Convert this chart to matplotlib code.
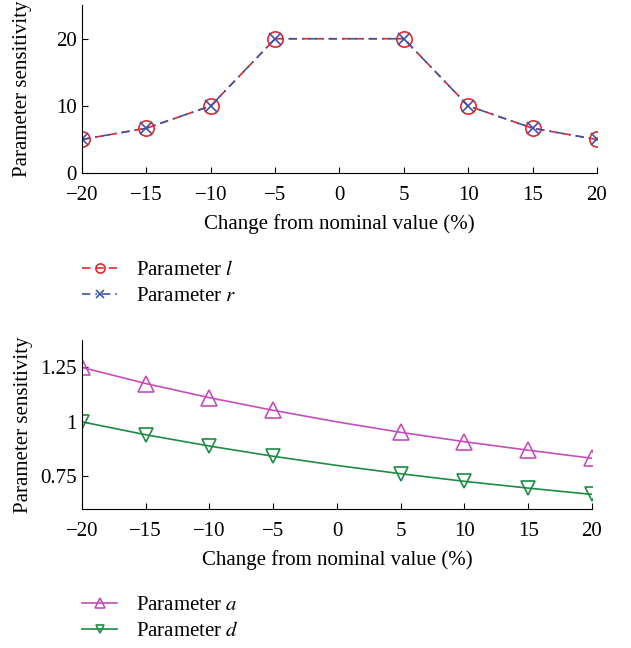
import matplotlib
matplotlib.use("Agg")
import matplotlib.pyplot as plt

plt.rcParams["font.family"] = ["Liberation Serif", "DejaVu Serif"]
plt.rcParams["mathtext.fontset"] = "stix"
plt.rcParams["font.size"] = 15

# top panel data
change_top = [-20, -15, -10, -5, 5, 10, 15, 20]
sens_l = [5.0, 6.67, 10.0, 20.0, 20.0, 10.0, 6.67, 5.0]
sens_r = [5.0, 6.67, 10.0, 20.0, 20.0, 10.0, 6.67, 5.0]

# bottom panel data (0 % point only carries the line, no marker)
change_bot = [-20, -15, -10, -5, 0, 5, 10, 15, 20]
sens_a = [1.25, 1.176, 1.111, 1.053, 1.0, 0.952, 0.909, 0.870, 0.833]
sens_d = [1.0, 0.941, 0.889, 0.842, 0.80, 0.762, 0.727, 0.696, 0.667]
marker_idx = [0, 1, 2, 3, 5, 6, 7, 8]

xticks = [-20, -15, -10, -5, 0, 5, 10, 15, 20]
xticklabels = ["\u221220", "\u221215", "\u221210", "\u22125", "0", "5", "10", "15", "20"]

red = "#e8262a"
blue = "#3a56a8"
magenta = "#c54fb8"
green = "#1d8a45"

fig = plt.figure(figsize=(6.31, 6.48), dpi=100)
ax1 = fig.add_axes([0.130, 0.733, 0.816, 0.259])
ax2 = fig.add_axes([0.130, 0.2145, 0.808, 0.2605])

l1, = ax1.plot(change_top, sens_l, linestyle=(0, (5, 3)), color=red, lw=1.2,
               marker="o", markersize=11, markerfacecolor="none",
               markeredgecolor=red, markeredgewidth=1.2, label="Parameter $l$")
l2, = ax1.plot(change_top, sens_r, linestyle=(0, (5, 3, 1, 3)), color=blue, lw=1.2,
               marker="x", markersize=9, markeredgecolor=blue,
               markeredgewidth=1.2, label="Parameter $r$")
ax1.set_xlim(-20, 20)
ax1.set_ylim(0, 25)
ax1.set_yticks([0, 10, 20])
ax1.set_xticks(xticks)
ax1.set_xticklabels(xticklabels)
ax1.set_xlabel("Change from nominal value (%)", labelpad=7)
ax1.set_ylabel("Parameter sensitivity")

l3, = ax2.plot(change_bot, sens_a, color=magenta, lw=1.2,
               marker="^", markevery=marker_idx, markersize=12,
               markerfacecolor="none", markeredgecolor=magenta,
               markeredgewidth=1.2, label="Parameter $a$")
l4, = ax2.plot(change_bot, sens_d, color=green, lw=1.2,
               marker="v", markevery=marker_idx, markersize=10,
               markerfacecolor="none", markeredgecolor=green,
               markeredgewidth=1.2, label="Parameter $d$")
ax2.set_xlim(-20, 20)
ax2.set_ylim(0.6, 1.375)
ax2.set_yticks([0.75, 1, 1.25])
ax2.set_yticklabels(["0.75", "1", "1.25"])
ax2.set_xticks(xticks)
ax2.set_xticklabels(xticklabels)
ax2.set_xlabel("Change from nominal value (%)", labelpad=7)
ax2.set_ylabel("Parameter sensitivity")

for ax in (ax1, ax2):
    ax.spines["top"].set_visible(False)
    ax.spines["right"].set_visible(False)
    ax.tick_params(direction="in", length=4)
    ax.tick_params(axis="x", pad=9)
    ax.tick_params(axis="y", pad=4)
    ax.yaxis.set_label_coords(-0.097, 0.5)

fig.legend(handles=[l1, l2], loc="upper left", bbox_to_anchor=(0.1, 0.627),
           frameon=False, handlelength=1.7, handletextpad=0.9, markerscale=0.6,
           labelspacing=0.3, fontsize=15)
fig.legend(handles=[l3, l4], loc="upper left", bbox_to_anchor=(0.1, 0.110),
           frameon=False, handlelength=1.7, handletextpad=0.9, markerscale=0.6,
           labelspacing=0.3, fontsize=15)

fig.savefig("out.png", dpi=100)
